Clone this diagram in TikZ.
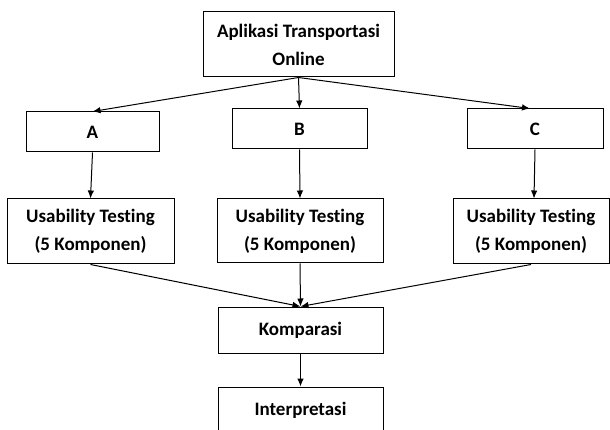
\documentclass[tikz,border=0pt]{standalone}
\usepackage{fontspec}
\setmainfont[Ligatures=NoCommon]{Carlito}
\usetikzlibrary{arrows.meta}

\tikzset{
  box/.style={draw,line width=1pt,align=center,inner sep=0pt,
    font=\bfseries\fontsize{19}{28}\selectfont},
}

\begin{document}
\begin{tikzpicture}[->,>={Latex[length=8pt,width=6.5pt]},line width=1pt,x=1pt,y=-1pt]
  \useasboundingbox (0,0) rectangle (610,430);
  \node[box,minimum width=191pt,minimum height=65pt] (app) at (298.5,44.5) {Aplikasi Transportasi\\Online};
  \node[box,minimum width=133pt,minimum height=40pt] (A) at (92.5,132) {A};
  \node[box,minimum width=135pt,minimum height=40pt] (B) at (299.5,129) {B};
  \node[box,minimum width=136pt,minimum height=40pt] (C) at (535,129) {C};
  \node[box,minimum width=167pt,minimum height=65pt] (UA) at (90.5,231.5) {Usability Testing\\(5 Komponen)};
  \node[box,minimum width=166pt,minimum height=64pt] (UB) at (300,231) {Usability Testing\\(5 Komponen)};
  \node[box,minimum width=156pt,minimum height=65pt] (UC) at (531,231.5) {Usability Testing\\(5 Komponen)};
  \node[box,minimum width=165pt,minimum height=46pt] (komp) at (300.5,330) {Komparasi};
  \node[box,minimum width=165pt,minimum height=46pt] (interp) at (300.5,410) {Interpretasi};
  \path (app.south) edge (A.north);
  \path (app.south) edge (B.north);
  \path (app.south) edge ([xshift=-5pt]C.north);
  \path (A.south) edge (UA.north);
  \path (B.south) edge (UB.north);
  \path (C.south) edge ([xshift=3pt]UC.north);
  \path (UA.south) edge (komp.north);
  \path (UB.south) edge (komp.north);
  \path (UC.south) edge (komp.north);
  \path (komp.south) edge (interp.north);
\end{tikzpicture}
\end{document}
